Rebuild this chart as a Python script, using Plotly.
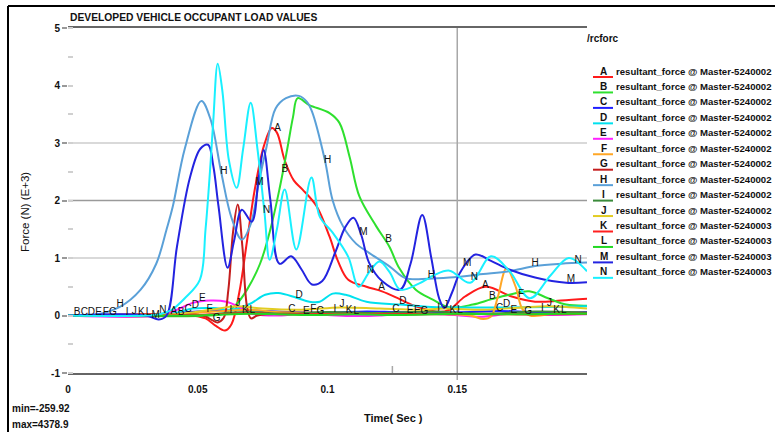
import numpy as np
import plotly.graph_objects as go

# ---- time (s) and resultant force (kN, E+3) samples for each contact curve ----
t_A = [0, 0.04, 0.048, 0.053, 0.057, 0.0605, 0.063, 0.066, 0.069, 0.072, 0.0755, 0.0785, 0.0805, 0.0835, 0.087, 0.0904,
       0.0958, 0.1008, 0.104, 0.108, 0.115, 0.121, 0.128, 0.134, 0.143, 0.147, 0.153, 0.161, 0.171, 0.18, 0.19, 0.2]
f_A = [0, 0.02, 0.0, -0.05, -0.18, -0.26, -0.15, 0.4, 1.3, 2.2, 2.95, 3.26, 3.18, 2.7, 2.35, 2.19,
       1.9, 1.37, 0.95, 0.62, 0.5, 0.42, 0.28, 0.16, 0.06, 0.1, 0.33, 0.5, 0.33, 0.24, 0.26, 0.29]

t_B = [0, 0.055, 0.06, 0.065, 0.069, 0.074, 0.078, 0.0815, 0.0845, 0.0867, 0.0885, 0.093, 0.1008, 0.1046, 0.1085,
       0.1123, 0.1188, 0.1238, 0.1277, 0.134, 0.1404, 0.147, 0.156, 0.163, 0.17, 0.1777, 0.185, 0.192, 0.2]
f_B = [0, 0.0, 0.03, 0.2, 0.45, 0.9, 1.5, 2.2, 2.9, 3.45, 3.78, 3.66, 3.52, 3.35, 2.76,
       2.07, 1.55, 1.2, 0.82, 0.45, 0.28, 0.14, 0.19, 0.28, 0.36, 0.42, 0.3, 0.19, 0.17]

t_C = [0, 0.035, 0.04, 0.046, 0.055, 0.065, 0.075, 0.086, 0.1, 0.115, 0.126, 0.14, 0.155, 0.166, 0.18, 0.2]
f_C = [0, 0.0, 0.03, 0.06, 0.08, 0.1, 0.08, 0.06, 0.05, 0.07, 0.06, 0.05, 0.06, 0.08, 0.06, 0.06]

t_D = [0, 0.035, 0.042, 0.048, 0.056, 0.063, 0.07, 0.076, 0.081, 0.088, 0.093, 0.097, 0.102, 0.107, 0.115, 0.128,
       0.14, 0.155, 0.17, 0.185, 0.2]
f_D = [0, 0.0, 0.05, 0.12, 0.13, 0.1, 0.2, 0.36, 0.39, 0.31, 0.24, 0.24, 0.38, 0.36, 0.24, 0.19,
       0.15, 0.14, 0.14, 0.15, 0.16]

t_E = [0, 0.035, 0.042, 0.048, 0.055, 0.061, 0.066, 0.07, 0.08, 0.09, 0.1, 0.11, 0.12, 0.13, 0.145, 0.16, 0.17,
       0.185, 0.2]
f_E = [0, 0.0, 0.1, 0.22, 0.26, 0.24, 0.15, 0.04, 0.0, 0.03, 0.01, -0.01, 0.0, 0.04, 0.02, -0.02, 0.03,
       0.01, 0.02]

t_F = [0, 0.04, 0.05, 0.06, 0.07, 0.08, 0.1, 0.12, 0.14, 0.155, 0.16, 0.163, 0.1655, 0.169, 0.1725, 0.175, 0.178,
       0.19, 0.2]
f_F = [0, 0.0, 0.05, 0.08, 0.1, 0.06, 0.05, 0.04, 0.03, 0.0, -0.06, -0.02, 0.3, 0.82, 0.5, 0.12, 0.0,
       0.05, 0.05]

t_G = [0, 0.045, 0.052, 0.0555, 0.0577, 0.06, 0.0618, 0.0636, 0.0654, 0.0672, 0.069, 0.0705, 0.073, 0.085, 0.1,
       0.12, 0.14, 0.16, 0.18, 0.2]
f_G = [0, 0.02, 0.0, -0.08, -0.12, -0.04, 0.45, 1.45, 1.93, 1.2, 0.15, -0.05, 0.0, 0.03, 0.02,
       0.03, 0.02, 0.03, 0.02, 0.03]

t_H = [0, 0.01, 0.02, 0.028, 0.034, 0.038, 0.0404, 0.045, 0.0514, 0.055, 0.059, 0.063, 0.067, 0.0705, 0.0735,
       0.0765, 0.08, 0.084, 0.089, 0.092, 0.094, 0.099, 0.102, 0.106, 0.111, 0.116, 0.124, 0.13, 0.139, 0.147,
       0.16, 0.17, 0.18, 0.19, 0.2]
f_H = [0, 0.01, 0.15, 0.45, 0.9, 1.5, 1.9, 2.9, 3.73, 3.4, 2.5, 1.7, 1.32, 1.6, 2.3,
       2.93, 3.6, 3.78, 3.82, 3.72, 3.55, 2.7, 2.0, 1.55, 1.25, 1.09, 0.85, 0.65, 0.64, 0.66,
       0.72, 0.77, 0.86, 0.9, 0.92]

t_I = [0, 0.05, 0.06, 0.07, 0.085, 0.1, 0.12, 0.14, 0.16, 0.18, 0.2]
f_I = [0, 0.0, 0.04, 0.06, 0.03, 0.06, 0.04, 0.07, 0.03, 0.07, 0.05]

t_J = [0, 0.04, 0.055, 0.065, 0.075, 0.09, 0.105, 0.12, 0.135, 0.145, 0.16, 0.175, 0.185, 0.2]
f_J = [0, 0.02, 0.1, 0.16, 0.12, 0.1, 0.14, 0.12, 0.1, 0.12, 0.1, 0.14, 0.16, 0.12]

t_K = [0, 0.05, 0.068, 0.085, 0.108, 0.13, 0.148, 0.17, 0.188, 0.2]
f_K = [0, 0.01, 0.04, 0.02, 0.03, 0.02, 0.03, 0.02, 0.03, 0.03]

t_L = [0, 0.05, 0.07, 0.09, 0.11, 0.13, 0.15, 0.17, 0.19, 0.2]
f_L = [0, 0.0, 0.03, 0.01, 0.02, 0.01, 0.03, 0.02, 0.03, 0.03]

t_M = [0, 0.03, 0.035, 0.038, 0.042, 0.047, 0.051, 0.054, 0.056, 0.058, 0.0615, 0.064, 0.067, 0.0708, 0.0735,
       0.0754, 0.078, 0.0815, 0.086, 0.09, 0.094, 0.098, 0.103, 0.107, 0.11, 0.113, 0.116, 0.121, 0.128, 0.132,
       0.1365, 0.14, 0.143, 0.145, 0.148, 0.151, 0.157, 0.163, 0.17, 0.18, 0.192, 0.2]
f_M = [0, 0.0, -0.07, 0.0, 1.2, 2.4, 2.9, 2.97, 2.6, 1.9, 0.83, 1.3, 1.84, 1.63, 2.4,
       2.88, 2.0, 0.9, 1.03, 0.8, 0.54, 0.6, 1.1, 1.55, 1.7, 1.4, 0.92, 0.6, 0.45, 0.9,
       1.75, 1.0, 0.3, 0.13, 0.4, 0.74, 1.06, 0.95, 0.8, 0.66, 0.57, 0.58]

t_N = [0, 0.03, 0.036, 0.04, 0.045, 0.0508, 0.053, 0.055, 0.056, 0.0577, 0.0595, 0.062, 0.065, 0.0675, 0.0704,
       0.073, 0.0757, 0.0777, 0.0805, 0.0835, 0.088, 0.0938, 0.097, 0.102, 0.108, 0.112, 0.116, 0.12, 0.124,
       0.128, 0.135, 0.141, 0.147, 0.155, 0.163, 0.17, 0.178, 0.186, 0.193, 0.2]
f_N = [0, 0.0, 0.03, 0.1, 0.3, 0.62, 1.5, 2.7, 3.4, 4.38, 3.9, 2.7, 2.22, 2.9, 3.7,
       2.9, 1.8, 0.97, 1.5, 2.19, 1.15, 2.4, 1.72, 1.44, 1.02, 0.5, 0.75, 0.94, 0.75,
       0.45, 0.55, 0.7, 0.78, 0.57, 1.03, 0.78, 0.3, 0.7, 1.0, 0.77]

curve_ids = ["A", "B", "C", "D", "E", "F", "G", "H", "I", "J", "K", "L", "M", "N"]
curve_t = [t_A, t_B, t_C, t_D, t_E, t_F, t_G, t_H, t_I, t_J, t_K, t_L, t_M, t_N]
curve_f = [f_A, f_B, f_C, f_D, f_E, f_F, f_G, f_H, f_I, f_J, f_K, f_L, f_M, f_N]
curve_names = ["resultant_force @ Master-5240002"] * 10 + ["resultant_force @ Master-5240003"] * 4

y_ticks = [-1, 0, 1, 2, 3, 4, 5]
x_ticks = [0, 0.05, 0.1, 0.15]
x_tick_text = ["0", "0.05", "0.1", "0.15"]

colors = ["#ff1a1a", "#2ee02e", "#1f1fff", "#00e1ee", "#ff22ff", "#ffa726", "#c41e1e",
          "#5aa0d8", "#3a8a3a", "#e2cc22", "#ff2020", "#22d822", "#2323e0", "#19f0ff"]

FONT = "Liberation Sans"

# plot area in pixels: x 68..587, y 28..373
W, H = 775, 432
L, R, T, B = 68, 188, 28, 59
PW, PH = W - L - R, H - T - B


def px_x(p):
    return (p - L) / PW


def px_y(p):
    return (H - B - p) / PH


fig = go.Figure()

# curves
for cid, t, f, c in zip(curve_ids, curve_t, curve_f, colors):
    fig.add_trace(go.Scatter(x=t, y=f, mode="lines", line=dict(color=c, width=2, shape="spline"),
                             name=cid, showlegend=False, hoverinfo="skip"))

# letter markers along each curve, every 0.04 s, staggered per curve
for k, (cid, t, f) in enumerate(zip(curve_ids, curve_t, curve_f)):
    xs = [0.00275 * k + 0.04 * n for n in range(5)]
    xs = [x for x in xs if 0.002 < x < 0.199]
    ys = np.interp(xs, t, f)
    fig.add_trace(go.Scatter(x=[x + 0.0008 for x in xs], y=list(ys + 0.05), mode="text",
                             text=[cid] * len(xs), textposition="middle center",
                             textfont=dict(family=FONT, size=10, color="#111"),
                             showlegend=False, hoverinfo="skip", cliponaxis=False))

shapes = []
# horizontal reference lines
for yv, col in [(1, "#cccccc"), (2, "#9a9a9a"), (3, "#cccccc")]:
    shapes.append(dict(type="line", xref="paper", yref="y", x0=0, x1=1, y0=yv, y1=yv,
                       line=dict(color=col, width=1.5), layer="below"))
# vertical reference at 0.15 s and a tick at 0.125 s
shapes.append(dict(type="line", xref="x", yref="paper", x0=0.15, x1=0.15, y0=px_y(380), y1=1,
                   line=dict(color="#a8a8a8", width=1.5), layer="below"))
shapes.append(dict(type="line", xref="x", yref="paper", x0=0.125, x1=0.125, y0=px_y(375), y1=px_y(366),
                   line=dict(color="#a8a8a8", width=1.5), layer="below"))
# outer frame
shapes.append(dict(type="line", xref="paper", yref="paper", x0=px_x(8), x1=px_x(8), y0=px_y(440), y1=px_y(6),
                   line=dict(color="#000", width=2)))
shapes.append(dict(type="line", xref="paper", yref="paper", x0=px_x(8), x1=px_x(780), y0=px_y(6), y1=px_y(6),
                   line=dict(color="#000", width=2)))

annotations = []
# legend block
annotations.append(dict(xref="paper", yref="paper", x=px_x(585), y=px_y(38), xanchor="left", yanchor="middle",
                        text="<b>/rcforc</b>", showarrow=False, font=dict(family=FONT, size=10, color="#111")))
for i, (cid, name, c) in enumerate(zip(curve_ids, curve_names, colors)):
    yc = 71 + 15.45 * i
    shapes.append(dict(type="line", xref="paper", yref="paper", x0=px_x(593), x1=px_x(613),
                       y0=px_y(yc + 6), y1=px_y(yc + 6), line=dict(color=c, width=2)))
    annotations.append(dict(xref="paper", yref="paper", x=px_x(603.5), y=px_y(yc), xanchor="center",
                            yanchor="middle", text="<b>%s</b>" % cid, showarrow=False,
                            font=dict(family=FONT, size=10, color="#111")))
    annotations.append(dict(xref="paper", yref="paper", x=px_x(614), y=px_y(yc), xanchor="left",
                            yanchor="middle", text="<b>%s</b>" % name, showarrow=False,
                            font=dict(family=FONT, size=9.6, color="#111")))

# title, axis titles and extremes
annotations.append(dict(xref="paper", yref="paper", x=0, y=px_y(17), xanchor="left", yanchor="middle",
                        text="<b>DEVELOPED VEHICLE OCCUPANT LOAD VALUES</b>", showarrow=False,
                        font=dict(family=FONT, size=10.3, color="#111")))
annotations.append(dict(xref="paper", yref="paper", x=px_x(393), y=px_y(418), xanchor="center", yanchor="middle",
                        text="<b>Time( Sec )</b>", showarrow=False, font=dict(family=FONT, size=11, color="#111")))
annotations.append(dict(xref="paper", yref="paper", x=px_x(25), y=px_y(212), xanchor="center", yanchor="middle",
                        text="Force (N) (E+3)", textangle=-90, showarrow=False,
                        font=dict(family=FONT, size=11.5, color="#111")))
annotations.append(dict(xref="paper", yref="paper", x=px_x(10), y=px_y(408), xanchor="left", yanchor="middle",
                        text="<b>min=-259.92</b>", showarrow=False, font=dict(family=FONT, size=10, color="#111")))
annotations.append(dict(xref="paper", yref="paper", x=px_x(10), y=px_y(424), xanchor="left", yanchor="middle",
                        text="<b>max=4378.9</b>", showarrow=False, font=dict(family=FONT, size=10, color="#111")))

fig.update_layout(
    width=W, height=H,
    margin=dict(l=L, r=R, t=T, b=B, pad=0),
    plot_bgcolor="white", paper_bgcolor="white",
    font=dict(family=FONT, size=10, color="#111"),
    shapes=shapes, annotations=annotations,
    showlegend=False,
)
fig.update_xaxes(range=[0, 0.2], showgrid=False, zeroline=False,
                 showline=True, mirror=True, linecolor="#666", linewidth=1.5,
                 ticks="", tickvals=x_ticks, ticktext=["<b>%s</b>" % s for s in x_tick_text],
                 tickfont=dict(family=FONT, size=10, color="#111"), ticklabelstandoff=6)
fig.update_yaxes(range=[-1, 5], showgrid=False, zeroline=False, showline=False,
                 ticks="outside", ticklen=5, tickcolor="#999", tickwidth=1.5,
                 tickvals=y_ticks, ticktext=["<b>%d</b>" % v for v in y_ticks],
                 tickfont=dict(family=FONT, size=10, color="#111"),
                 minor=dict(ticks="inside", ticklen=5, tickcolor="#d0d0d0", dtick=0.5, tick0=0.5))

fig.write_html("out.html")
